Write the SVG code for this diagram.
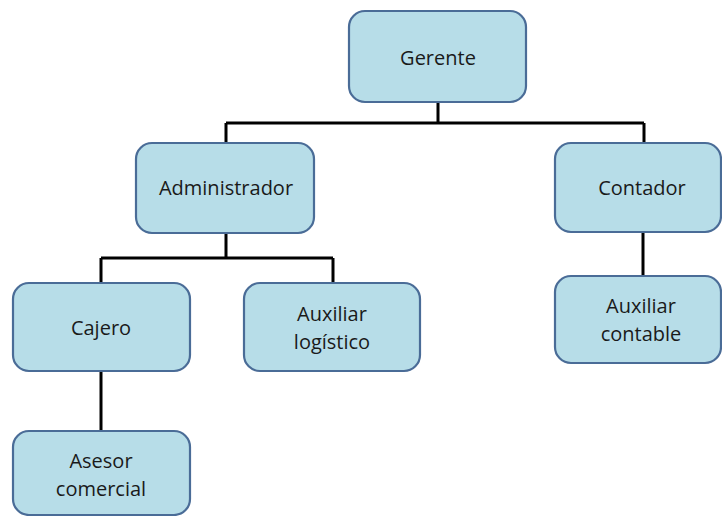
<svg xmlns="http://www.w3.org/2000/svg" width="722" height="516" viewBox="0 0 722 516">
<style>
.box{fill:#b7dde8;stroke:#4a6c97;stroke-width:2.2}
.lbl{font-family:"Open Sans","Liberation Sans",sans-serif;font-size:20px;fill:#1a1a1a;text-anchor:middle;dominant-baseline:central}
.con{stroke:#000;stroke-width:3;fill:none}
</style>
<rect width="722" height="516" fill="#fff"/>
<g id="connectors">
<path class="con" d="M438 102V123M226 123H644M226 123V143M644 123V143"/>
<path class="con" d="M226 233V258M101 258H333M101 258V283M333 258V283"/>
<path class="con" d="M101 371V431"/>
<path class="con" d="M643 232V276"/>
</g>
<g id="gerente"><rect class="box" x="349" y="11" width="177" height="91" rx="16"/><text class="lbl" x="438" y="57">Gerente</text></g>
<g id="administrador"><rect class="box" x="136" y="143" width="178" height="90" rx="16"/><text class="lbl" x="226" y="187">Administrador</text></g>
<g id="contador"><rect class="box" x="555" y="143" width="166" height="89" rx="16"/><text class="lbl" x="642" y="187">Contador</text></g>
<g id="cajero"><rect class="box" x="13" y="283" width="177" height="88" rx="16"/><text class="lbl" x="101" y="327">Cajero</text></g>
<g id="auxiliar-logistico"><rect class="box" x="244" y="283" width="176" height="88" rx="16"/><text class="lbl" x="332" y="313">Auxiliar</text><text class="lbl" x="332" y="341">logístico</text></g>
<g id="auxiliar-contable"><rect class="box" x="555" y="276" width="166" height="87" rx="16"/><text class="lbl" x="641" y="305">Auxiliar</text><text class="lbl" x="641" y="333">contable</text></g>
<g id="asesor-comercial"><rect class="box" x="13" y="431" width="177" height="84" rx="16"/><text class="lbl" x="101" y="460">Asesor</text><text class="lbl" x="101" y="488">comercial</text></g>
</svg>
